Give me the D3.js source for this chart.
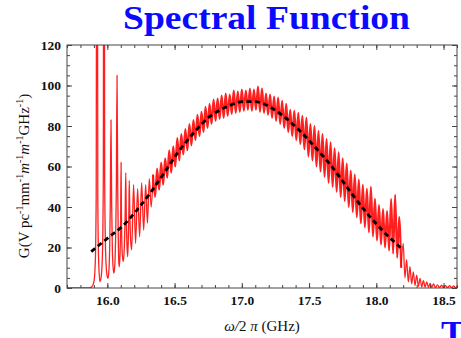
<!DOCTYPE html>
<html><head><meta charset="utf-8">
<script src="https://cdn.jsdelivr.net/npm/d3@7"></script>
<style>html,body{margin:0;padding:0;background:#fff;} svg{display:block;}</style>
</head><body>
<svg id="c" width="461" height="338"></svg>
<script>
// ---------- data ----------
const titleText = "Spectral Function";
const xTicks = [16.0, 16.5, 17.0, 17.5, 18.0, 18.5];
const yTicks = [0, 20, 40, 60, 80, 100, 120];

// smooth (dashed) envelope
const dashFreq = [15.88, 16.00, 16.12, 16.22, 16.32, 16.42, 16.52, 16.64, 16.76, 16.89, 17.01, 17.10, 17.16, 17.28, 17.41, 17.53, 17.66, 17.78, 17.90, 18.03, 18.19];
const dashG    = [18, 24.5, 31, 38.5, 47, 56.6, 66.5, 76.4, 84.6, 89.5, 92, 92, 91, 86.3, 79, 70.6, 60.7, 50, 39.4, 29.5, 19.3];

// red curve, low-frequency resonances
const lowFreq = [15.70, 15.86, 15.885, 15.900, 15.910, 15.917, 15.923, 15.929, 15.936, 15.945,
  15.955, 15.964, 15.970, 15.975, 15.980, 15.987, 15.996, 16.005,
  16.012, 16.018, 16.022, 16.027, 16.032, 16.037, 16.043, 16.049,
  16.056, 16.062, 16.067, 16.072, 16.077, 16.081, 16.085, 16.089,
  16.095, 16.099, 16.102, 16.105, 16.110, 16.118,
  16.126, 16.132, 16.137, 16.141, 16.146, 16.151,
  16.156, 16.160, 16.163, 16.167, 16.172, 16.181,
  16.195, 16.210, 16.225, 16.240, 16.255, 16.270, 16.285, 16.298, 16.312, 16.326, 16.340];
const lowG = [0, 0, 0.6, 3, 12, 45, 400, 45, 12, 3.2,
  6, 18, 55, 400, 55, 18, 7, 4.8,
  9, 22, 42, 83, 42, 20, 10, 7.3,
  12, 26, 50, 105, 50, 26, 13, 10.5,
  18, 35, 62, 35, 18, 13,
  20, 35, 57, 35, 21, 15.5,
  24, 38, 53, 38, 25, 18.8,
  51, 22, 49, 25.3, 52, 28.6, 51, 32, 54, 40, 56];

// red curve, dense resonance band (alternating peak / trough)
const bandFreq = [16.340, 16.355, 16.370, 16.385, 16.400, 16.415, 16.430, 16.445, 16.460, 16.475,
  16.490, 16.505, 16.520, 16.535, 16.550, 16.565, 16.580, 16.595, 16.610, 16.625,
  16.640, 16.655, 16.670, 16.685, 16.700, 16.715, 16.730, 16.745, 16.760, 16.775,
  16.790, 16.805, 16.820, 16.835, 16.850, 16.865, 16.880, 16.895, 16.910, 16.925,
  16.940, 16.955, 16.970, 16.985, 17.000, 17.015, 17.030, 17.045, 17.060, 17.075,
  17.090, 17.105, 17.120, 17.135, 17.150, 17.165, 17.180, 17.195, 17.210, 17.225,
  17.240, 17.255, 17.270, 17.285, 17.300, 17.315, 17.330, 17.345, 17.360, 17.375,
  17.390, 17.405, 17.420, 17.435, 17.450, 17.465, 17.480, 17.495, 17.510, 17.525,
  17.540, 17.555, 17.570, 17.585, 17.600, 17.615, 17.630, 17.645, 17.660, 17.675,
  17.690, 17.705, 17.720, 17.735, 17.750, 17.765, 17.780, 17.795, 17.810, 17.825,
  17.840, 17.855, 17.870, 17.885, 17.900, 17.915, 17.930, 17.945, 17.960, 17.975,
  17.990, 18.005, 18.020, 18.035, 18.050, 18.065, 18.080, 18.095, 18.110, 18.125,
  18.140, 18.155, 18.170, 18.185];
const bandG = [56, 45, 59, 48.5, 62, 51, 64, 54.5, 68, 57,
  70, 60, 74, 63, 76, 66, 78.5, 68, 81, 70.5,
  83, 73, 85.5, 75, 87, 77, 89.5, 79, 91, 81,
  93, 82.5, 93.5, 83.5, 95, 84, 96, 85, 95.5, 86,
  97.5, 86.5, 97, 87, 98, 87.5, 97.5, 88, 98.5, 87.5,
  98, 88, 99.5, 87, 98.5, 86.5, 96, 85.5, 95.5, 84,
  94.5, 82.5, 94, 81, 92.5, 79, 91, 77, 88, 75,
  87.5, 73, 86.5, 71, 85, 68.5, 84, 65, 81, 63,
  80, 60, 77.5, 57.5, 76, 55, 73.5, 52, 72, 50,
  69, 47.5, 67, 45, 64, 43, 61.5, 40, 58, 37.5,
  56, 35, 53.5, 32, 51, 30, 49, 27.5, 50, 25.5,
  44, 23.5, 41, 21.5, 39, 20, 38, 18.5, 44, 17,
  46, 15, 35, 10];

// red curve, high-frequency tail
const tailFreq = [18.185, 18.200, 18.213, 18.225, 18.238, 18.250, 18.263, 18.275, 18.288, 18.300, 18.313,
  18.325, 18.338, 18.350, 18.363, 18.375, 18.388, 18.400, 18.413, 18.425, 18.440,
  18.455, 18.470, 18.485, 18.500, 18.515, 18.530, 18.545, 18.560, 18.575, 18.590, 18.605, 18.620];
const tailG = [10, 22, 5, 14, 3, 10.5, 2, 8, 1.2, 6.4, 0.8,
  4.8, 0.5, 3.6, 0.4, 3, 0.3, 2.3, 0.3, 2, 0.2,
  1.6, 0.2, 1.4, 0.2, 1.2, 0.1, 1.2, 0.1, 1.0, 0.1, 0.9, 0.1];

// ---------- drawing ----------
const W = 461, H = 338;
const svg = d3.select("#c");
svg.append("rect").attr("width", W).attr("height", H).attr("fill", "#fff");

const x = d3.scaleLinear().domain([15.7, 18.6]).range([67, 457]);
const y = d3.scaleLinear().domain([0, 120]).range([288, 45]);

const serif = "'Liberation Serif','Times New Roman',serif";

svg.append("defs").append("clipPath").attr("id", "plotclip")
  .append("rect").attr("x", 67).attr("y", 45).attr("width", 390).attr("height", 243);

const line = d3.line().x(d => x(d[0])).y(d => y(d[1])).curve(d3.curveMonotoneX);
function redPath(fs, gs, w) {
  svg.append("path").datum(fs.map((f, i) => [f, gs[i]]))
    .attr("clip-path", "url(#plotclip)")
    .attr("d", line)
    .attr("fill", "none")
    .attr("stroke", "#ff0000")
    .attr("stroke-width", w)
    .attr("stroke-opacity", 0.88)
    .attr("stroke-linejoin", "round");
}
redPath(lowFreq, lowG, 1.3);
redPath(bandFreq, bandG, 2.1);
redPath(tailFreq, tailG, 1.25);

// dashed smooth curve
const dashData = dashFreq.map((f, i) => [f, dashG[i]]);
svg.append("path").datum(dashData)
  .attr("d", line)
  .attr("fill", "none")
  .attr("stroke", "#000")
  .attr("stroke-width", 2.8)
  .attr("stroke-dasharray", "5,3.5");

// axes
const axCol = "#444";
function styleAxis(g) {
  g.select(".domain").remove();
  g.selectAll(".tick line").attr("stroke", axCol).attr("stroke-width", 1);
  g.selectAll(".tick text").attr("font-family", serif).attr("font-weight", "bold")
    .attr("font-size", 13.5).attr("fill", "#111");
}
const xMinor = d3.range(157, 187).map(d => d / 10);
const yMinor = d3.range(0, 121, 5);

svg.append("g").attr("transform", "translate(0,288)")
  .call(d3.axisBottom(x).tickValues(xMinor).tickSize(-3).tickFormat("")).call(styleAxis);
svg.append("g").attr("transform", "translate(0,288)")
  .call(d3.axisBottom(x).tickValues(xTicks).tickSize(-5).tickPadding(7).tickFormat(d3.format(".1f"))).call(styleAxis);
svg.append("g").attr("transform", "translate(0,45)")
  .call(d3.axisTop(x).tickValues(xMinor).tickSize(-3).tickFormat("")).call(styleAxis);
svg.append("g").attr("transform", "translate(0,45)")
  .call(d3.axisTop(x).tickValues(xTicks).tickSize(-5).tickFormat("")).call(styleAxis);

svg.append("g").attr("transform", "translate(67,0)")
  .call(d3.axisLeft(y).tickValues(yMinor).tickSize(-3).tickFormat("")).call(styleAxis);
svg.append("g").attr("transform", "translate(67,0)")
  .call(d3.axisLeft(y).tickValues(yTicks).tickSize(-5).tickPadding(6).tickFormat(d3.format("d"))).call(styleAxis);
svg.append("g").attr("transform", "translate(457,0)")
  .call(d3.axisRight(y).tickValues(yMinor).tickSize(-3).tickFormat("")).call(styleAxis);
svg.append("g").attr("transform", "translate(457,0)")
  .call(d3.axisRight(y).tickValues(yTicks).tickSize(-5).tickFormat("")).call(styleAxis);

// frame
svg.append("rect").attr("x", 67).attr("y", 45).attr("width", 390).attr("height", 243)
  .attr("fill", "none").attr("stroke", axCol).attr("stroke-width", 1);

// title
svg.append("text").attr("x", 266.5).attr("y", 28.5).attr("text-anchor", "middle")
  .attr("font-family", serif).attr("font-weight", "bold").attr("font-size", 33)
  .attr("textLength", 287).attr("lengthAdjust", "spacingAndGlyphs")
  .attr("fill", "#0a0aff").text(titleText);

// partial letter bottom-right (cut by the page edge, as in the reference)
svg.append("text").attr("x", 441).attr("y", 346).attr("font-family", serif)
  .attr("font-weight", "bold").attr("font-size", 36).attr("fill", "#0a0aff").text("T");

// x label
const xl = svg.append("text").attr("x", 262).attr("y", 331).attr("text-anchor", "middle")
  .attr("font-family", serif).attr("font-size", 15).attr("fill", "#111");
xl.append("tspan").attr("font-style", "italic").text("ω/");
xl.append("tspan").text("2 ");
xl.append("tspan").attr("font-style", "italic").text("π");
xl.append("tspan").text(" (GHz)");

// y label
const yl = svg.append("text").attr("transform", "translate(29,176) rotate(-90)")
  .attr("text-anchor", "middle").attr("font-family", serif).attr("font-size", 15).attr("fill", "#111");
const parts = [["G(V pc", false, false], ["-1", true, false], ["mm", false, false], ["-1", true, false],
  ["m", false, true], ["-1", true, false], ["m", false, true], ["-1", true, false], ["GHz", false, false], ["-1", true, false], [")", false, false]];
let sup = false;
parts.forEach(p => {
  const t = yl.append("tspan").text(p[0]);
  if (p[1]) { t.attr("font-size", 10).attr("dy", sup ? 0 : -6); sup = true; }
  else { t.attr("dy", sup ? 6 : 0); sup = false; }
  if (p[2]) t.attr("font-style", "italic");
});
</script>
</body></html>
